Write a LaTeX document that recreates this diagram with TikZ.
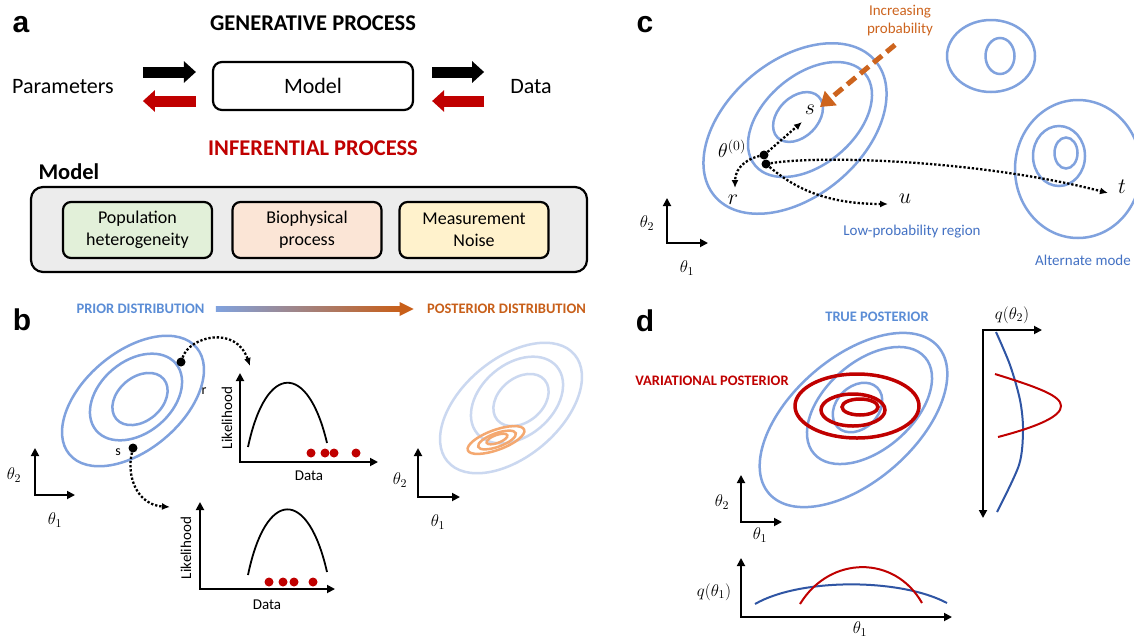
\RequirePackage{fix-cm}
\documentclass[tikz,border=0pt]{standalone}
\usepackage{fontspec}
\setmainfont{Carlito}
\newfontfamily\letterfont{Liberation Sans}
\usetikzlibrary{arrows.meta,calc}
\definecolor{contourblue}{RGB}{128,162,222}
\definecolor{paleblue}{RGB}{203,216,240}
\definecolor{paleorange}{RGB}{244,168,112}
\definecolor{textblue}{RGB}{91,141,214}
\definecolor{darkblue}{RGB}{47,85,164}
\definecolor{regionblue}{RGB}{68,114,196}
\definecolor{darkred}{RGB}{192,0,0}
\definecolor{burnt}{RGB}{200,95,25}
\definecolor{dashorange}{RGB}{205,100,30}
\definecolor{boxgrey}{RGB}{236,236,236}
\definecolor{boxgreen}{RGB}{226,240,217}
\definecolor{boxpink}{RGB}{251,229,214}
\definecolor{boxyellow}{RGB}{255,242,204}

\begin{document}
\begin{tikzpicture}[x=1pt,y=-1pt,
    panel/.style={font=\letterfont\bfseries\fontsize{30}{30}\selectfont},
    big/.style={font=\fontsize{22}{26}\selectfont},
    heading/.style={font=\bfseries\fontsize{22.5}{26}\selectfont},
    caps/.style={font=\bfseries\fontsize{14.5}{18}\selectfont},
    small/.style={font=\fontsize{15}{18}\selectfont},
    tiny/.style={font=\fontsize{14}{16}\selectfont},
    mathlabel/.style={font=\fontsize{22}{24}\selectfont},
    part/.style={draw,line width=2.2pt,rounded corners=8pt,minimum width=149pt,minimum height=56pt,align=center,font=\fontsize{18}{22}\selectfont},
    blockarrow/.style={line width=11pt,-{Triangle[length=12pt,width=21pt]}},
    contour/.style={contourblue,line width=2.5pt},
    dot/.style={circle,fill=black,inner sep=0pt,minimum size=9pt},
    datadot/.style={circle,fill=darkred,inner sep=0pt,minimum size=9pt},
    dotarrow/.style={line width=2.3pt,dash pattern=on 2.3pt off 1.9pt,-{Latex[length=8pt,width=7pt]}},
    axes/.style={line width=1.8pt,{Triangle[length=8pt,width=8pt]}-{Triangle[length=8pt,width=8pt]}},
    thetalabel/.style={font=\fontsize{17}{19}\selectfont}
  ]
\path[use as bounding box,fill=white] (0,0) rectangle (1134,640);

% panel a
\node[panel] (la) at (21,25) {a};
\node[heading] (gen) at (313,23) {GENERATIVE PROCESS};
\node[big] (params) at (63,87) {Parameters};
\node[big,draw,line width=2.2pt,rounded corners=9pt,minimum width=200pt,minimum height=48pt] (model) at (313,86) {Model};
\node[big] (data) at (531,87) {Data};
\draw[blockarrow] ($(model.west)+(-69,-14)$) -- ($(model.west)+(-16,-14)$);
\draw[blockarrow,darkred] ($(model.west)+(-16,15)$) -- ($(model.west)+(-69,15)$);
\draw[blockarrow] ($(model.east)+(18,-14)$) -- ($(model.east)+(70,-14)$);
\draw[blockarrow,darkred] ($(model.east)+(70,15)$) -- ($(model.east)+(18,15)$);
\node[heading,darkred] (infer) at (313,148) {INFERENTIAL PROCESS};
\node[heading,anchor=west] (mlabel) at (35,172) {Model};
\node[draw,line width=2.2pt,rounded corners=12pt,fill=boxgrey,minimum width=556pt,minimum height=85pt] (modelbox) at (309,229.5) {};
\node[part,fill=boxgreen] (pop) at (137.5,230) {Population\\heterogeneity};
\node[part,fill=boxpink] (bio) at (307,230) {Biophysical\\process};
\node[part,fill=boxyellow] (noise) at (474,230) {Measurement\\Noise};

% panel b
\node[panel] (lb) at (22,320) {b};
\node[caps,textblue] (prior) at (140.5,309) {PRIOR DISTRIBUTION};
\node[caps,burnt] (post) at (506.5,309) {POSTERIOR DISTRIBUTION};
\coordinate (gstart) at ($(prior.east)+(8,0)$);
\coordinate (gend) at ($(post.west)+(-10,0)$);
\shade[left color=contourblue,right color=burnt] ($(gstart)+(0,-2.5)$) rectangle ($(gend)+(-13,2.5)$);
\fill[burnt] ($(gend)+(-14,-7)$) -- (gend) -- ($(gend)+(-14,7)$) -- cycle;

\begin{scope}[contour]
  \draw[rotate around={40:(133,401)}] (133,401) ellipse [x radius=83,y radius=49];
  \draw[rotate around={40:(136,397)}] (136,397) ellipse [x radius=52,y radius=36];
  \draw[rotate around={40:(140,399)}] (140,399) ellipse [x radius=31,y radius=22];
\end{scope}
\node[dot] (r0) at (181,362) {};
\node[dot] (s0) at (133,448) {};
\node[tiny] (rlab) at (204,391) {r};
\node[tiny] (slab) at (118,452) {s};
\coordinate (rtip) at (250,366);
\coordinate (stip) at (170,507);
\draw[dotarrow] (r0) .. controls (190,336) and (236,325) .. (rtip);
\draw[dotarrow] (s0) .. controls (126,478) and (138,505) .. (stip);

\coordinate (po) at (35,495);
\draw[axes] (35,448) -- (po) -- (75,495);
\node[thetalabel] (pt2) at (14,475) {$\theta_2$};
\node[thetalabel] (pt1) at (55,520) {$\theta_1$};

\coordinate (uo) at (240,462);
\draw[axes] (240,373) -- (uo) -- (378,462);
\draw[line width=1.8pt] (248,447) .. controls (266,362) and (308,362) .. (327,443);
\foreach \x [count=\i] in {311,325,334,356}
  \node[datadot] (ud\i) at (\x,453) {};
\node[small,rotate=90] (ulik) at (227,418) {Likelihood};
\node[small] (udata) at (309,476) {Data};

\coordinate (lo) at (200,589);
\draw[axes] (200,502) -- (lo) -- (335,589);
\draw[line width=1.8pt] (248,575) .. controls (266,488) and (308,488) .. (327,572);
\foreach \x [count=\i] in {269,283,294,313}
  \node[datadot] (ld\i) at (\x,582) {};
\node[small,rotate=90] (llik) at (186,548) {Likelihood};
\node[small] (ldata) at (267,605) {Data};

\begin{scope}[paleblue,line width=2.5pt]
  \draw[rotate around={40:(511,408)}] (511,408) ellipse [x radius=83,y radius=49];
  \draw[rotate around={40:(517,400)}] (517,400) ellipse [x radius=52,y radius=36];
  \draw[rotate around={40:(521,400)}] (521,400) ellipse [x radius=31,y radius=22];
\end{scope}
\begin{scope}[paleorange,line width=2.5pt]
  \draw[rotate around={20:(496,440)}] (496,440) ellipse [x radius=30,y radius=10];
  \draw[rotate around={20:(497,440)}] (497,440) ellipse [x radius=20,y radius=6.8];
  \draw[rotate around={20:(497,439)}] (497,439) ellipse [x radius=11,y radius=4];
\end{scope}
\coordinate (qo2) at (418,497);
\draw[axes] (418,448) -- (qo2) -- (460,497);
\node[thetalabel] (qt2) at (400,480) {$\theta_2$};
\node[thetalabel] (qt1) at (438,522) {$\theta_1$};

% panel c
\node[panel] (lc) at (645,25) {c};
\node[small,dashorange,align=center] (incr) at (900,21) {Increasing\\probability};
\begin{scope}[contour]
  \draw[rotate around={40:(795,128.5)}] (795,128.5) ellipse [x radius=105,y radius=68];
  \draw[rotate around={40:(810,119.5)}] (810,119.5) ellipse [x radius=71.6,y radius=45];
  \draw[rotate around={45:(798,117)}] (798,117) ellipse [x radius=29,y radius=20];
  \draw (991,56) ellipse [x radius=44,y radius=36];
  \draw (1000,56) ellipse [x radius=14.5,y radius=18];
  \draw (1078,169) ellipse [x radius=63,y radius=69];
  \draw (1059,156) ellipse [x radius=26,y radius=30];
  \draw (1066,153) ellipse [x radius=11.5,y radius=15.5];
\end{scope}
\coordinate (dstart) at ($(incr.south)+(-5,5)$);
\coordinate (dend) at (820,107);
\draw[dashorange,line width=5pt,dash pattern=on 11pt off 6pt,-{Triangle[length=14pt,width=18pt]}] (dstart) -- (dend);
\node[dot] (p0) at (764,155) {};
\node[dot] (p1) at (766,164) {};
\node[mathlabel] (sc) at (810,110) {$s$};
\node[font=\fontsize{20}{22}\selectfont] (th0) at (732,149) {$\theta^{(0)}$};
\node[mathlabel] (rc) at (733,200) {$r$};
\node[mathlabel] (uc) at (905,199) {$u$};
\node[mathlabel] (tc) at (1122,187) {$t$};
\coordinate (stipc) at (802,122);
\coordinate (rtipc) at (735,188);
\coordinate (utip) at (888,204);
\coordinate (ttip) at (1108,193);
\draw[dotarrow] (p0) -- (stipc);
\draw[dotarrow] (p0) .. controls (750,158) and (735,166) .. (rtipc);
\draw[dotarrow] (p1) .. controls (790,184) and (820,204) .. (utip);
\draw[dotarrow] (p1) .. controls (820,155) and (980,160) .. (ttip);
\node[small,regionblue] (low) at (912,232) {Low-probability region};
\node[small,regionblue] (alt) at (1083,260) {Alternate mode};
\coordinate (co) at (667,243);
\draw[axes] (667,198) -- (co) -- (708,243);
\node[thetalabel] (ct2) at (647,223) {$\theta_2$};
\node[thetalabel] (ct1) at (687,268) {$\theta_1$};

% panel d
\node[panel] (ld) at (645,321) {d};
\node[caps,textblue] (truepost) at (877,317) {TRUE POSTERIOR};
\node[caps,darkred] (varpost) at (712,381) {VARIATIONAL POSTERIOR};
\begin{scope}[contour]
  \draw[rotate around={41:(853.5,420)}] (853.5,420) ellipse [x radius=112,y radius=62];
  \draw[rotate around={41:(869.5,405.5)}] (869.5,405.5) ellipse [x radius=73.5,y radius=44];
  \draw[rotate around={45:(857.5,407.5)}] (857.5,407.5) ellipse [x radius=28,y radius=21];
\end{scope}
\begin{scope}[darkred,line width=3.5pt]
  \draw (857,406) ellipse [x radius=62,y radius=32];
  \draw (853,410) ellipse [x radius=32,y radius=16];
  \draw (860,407) ellipse [x radius=18,y radius=8];
\end{scope}
\coordinate (do) at (741,522);
\draw[axes] (741,475) -- (do) -- (782,522);
\node[thetalabel] (dt2) at (722,502) {$\theta_2$};
\node[thetalabel] (dt1) at (760,535) {$\theta_1$};

\coordinate (m2o) at (983,330);
\draw[axes] (1042,330) -- (m2o) -- (983,518);
\node[thetalabel] (q2) at (1012,315) {$q(\theta_2)$};
\draw[darkblue,line width=2pt] plot[smooth] coordinates {(996,332) (1010,365) (1020,400) (1023,430) (1019,465) (997,512)};
\draw[darkred,line width=2pt] (995,374) .. controls (1040,388) and (1061,396) .. (1061,406) .. controls (1061,416) and (1040,426) .. (998,437);

\coordinate (m1o) at (741,617);
\draw[axes] (741,558) -- (m1o) -- (952,617);
\node[thetalabel] (q1) at (714,592) {$q(\theta_1)$};
\node[thetalabel] (m1t) at (860,629) {$\theta_1$};
\draw[darkblue,line width=2pt] (755,604) .. controls (800,578) and (900,578) .. (947,603);
\draw[darkred,line width=2pt] (800,604) .. controls (830,555) and (895,555) .. (922,603);
\end{tikzpicture}
\end{document}
